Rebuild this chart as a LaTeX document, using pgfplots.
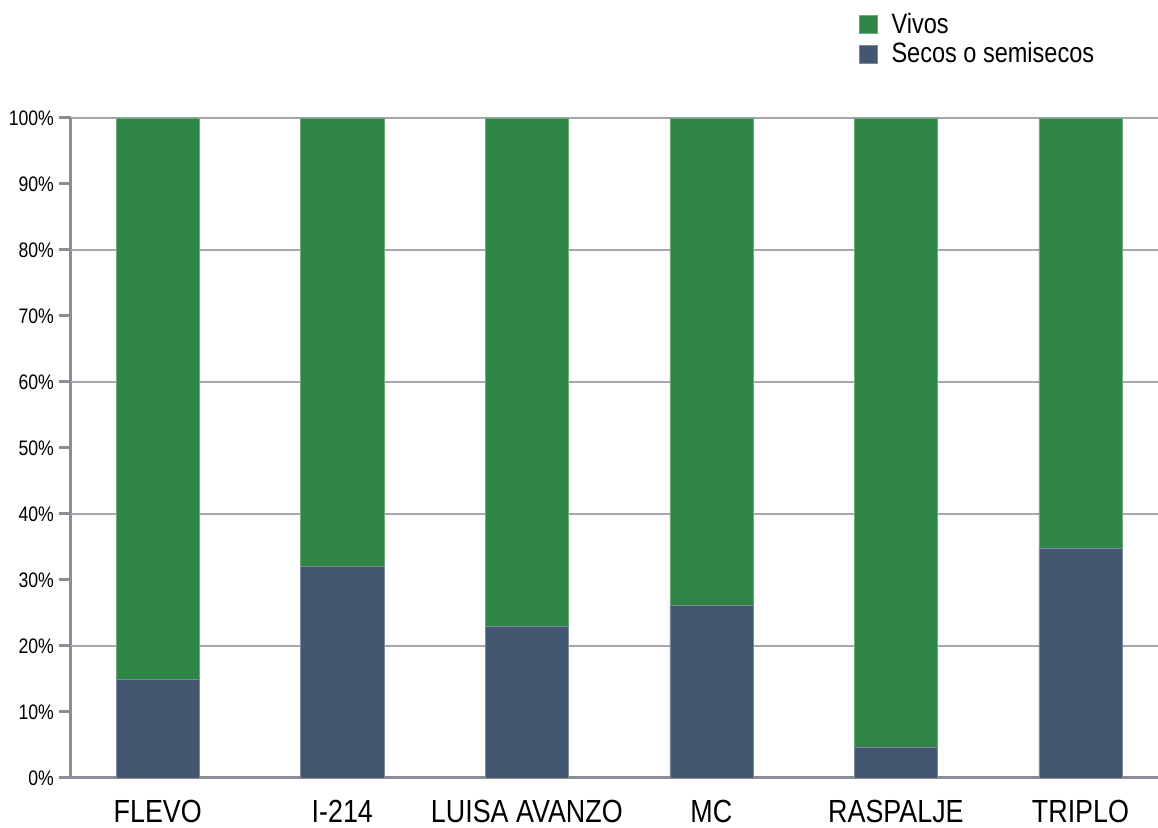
\documentclass[border=0pt]{standalone}
\usepackage{fontspec}
\setmainfont{Liberation Sans}[FakeStretch=0.84]
\usepackage{pgfplots}
\pgfplotsset{compat=1.18}
\definecolor{vivos}{RGB}{46,133,70}
\definecolor{secos}{RGB}{67,88,112}
\definecolor{axisgray}{RGB}{140,140,148}
\definecolor{gridgray}{RGB}{165,165,170}
\begin{document}
\begin{tikzpicture}
\path[use as bounding box] (-35.5pt,-25pt) rectangle (543.5pt,389pt);
\begin{axis}[
  at={(0pt,0pt)}, anchor=south west,
  scale only axis,
  width=543.5pt, height=330pt,
  xmin=-0.47, xmax=5.42,
  ymin=0, ymax=100,
  ybar stacked,
  bar width=0.45,
  axis x line*=bottom,
  axis y line*=left,
  axis line style={axisgray, line width=1.5pt},
  xtick={0,1,2,3,4,5},
  xticklabels={FLEVO, I-214, LUISA AVANZO, MC, RASPALJE, TRIPLO},
  x tick label style={font=\fontsize{16}{18}\selectfont, yshift=-1.5pt},
  xtick style={draw=none},
  ytick={0,10,...,100},
  yticklabel={\pgfmathprintnumber{\tick}\%},
  /pgf/number format/assume math mode=true,
  y tick label style={font=\fontsize{10.5}{12}\selectfont, xshift=1pt},
  ytick style={axisgray, line width=1.5pt},
  tick align=outside,
  major tick length=6pt,
  extra y ticks={20,40,60,80,100},
  extra y tick labels={},
  extra y tick style={grid=major, major tick length=0pt, grid style={gridgray, line width=0.6pt}},
  legend style={at={(0.719,1.172)}, anchor=north west, draw=none, fill=none,
    font=\fontsize{14}{15}\selectfont, row sep=-1pt,
    /tikz/every odd column/.append style={column sep=5pt}},
  legend cell align=left,
  reverse legend,
  legend image code/.code={\fill[#1] (0pt,-4.5pt) rectangle (9pt,4.5pt);},
]
\addplot[fill=secos, draw=secos!70!white, line width=0.3pt] coordinates {(0,15) (1,32) (2,23) (3,26.1) (4,4.7) (5,34.8)};
\addplot[fill=vivos, draw=vivos!70!white, line width=0.3pt] coordinates {(0,85) (1,68) (2,77) (3,73.9) (4,95.3) (5,65.2)};
\legend{Secos o semisecos, Vivos}
\end{axis}
\end{tikzpicture}
\end{document}
